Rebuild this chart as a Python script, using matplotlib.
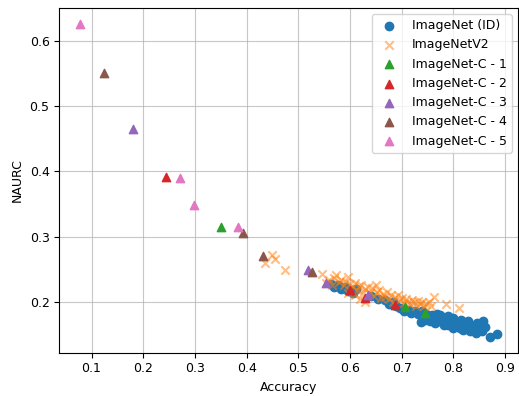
import matplotlib
matplotlib.use("Agg")
import matplotlib.pyplot as plt
import numpy as np

plt.rcParams['font.size'] = 9

# ImageNet (ID) models: accuracy / NAURC
id_acc = [0.563, 0.570, 0.577, 0.583, 0.590, 0.596, 0.605, 0.612,
          0.640, 0.655, 0.668, 0.675, 0.683, 0.690,
          0.697, 0.704, 0.712, 0.718, 0.725, 0.732, 0.737, 0.740, 0.748,
          0.752, 0.758, 0.763, 0.768, 0.772, 0.777, 0.782, 0.786, 0.790,
          0.795, 0.800, 0.804, 0.808, 0.812, 0.815, 0.818, 0.822, 0.826,
          0.829, 0.832, 0.836, 0.840, 0.843, 0.846, 0.850, 0.855, 0.858,
          0.862, 0.871, 0.885,
          0.745, 0.755, 0.765, 0.775, 0.790, 0.800]
id_naurc = [0.227, 0.222, 0.226, 0.219, 0.222, 0.216, 0.214, 0.220,
            0.209, 0.205, 0.203, 0.197, 0.200, 0.193,
            0.190, 0.186, 0.188, 0.183, 0.186, 0.181, 0.169, 0.186, 0.182,
            0.177, 0.180, 0.175, 0.181, 0.170, 0.176, 0.165, 0.172, 0.178,
            0.170, 0.175, 0.163, 0.168, 0.160, 0.172, 0.157, 0.165, 0.160,
            0.170, 0.155, 0.163, 0.158, 0.152, 0.167, 0.160, 0.155, 0.170,
            0.162, 0.146, 0.150,
            0.172, 0.170, 0.168, 0.180, 0.165, 0.160]

# ImageNetV2
v2_acc = [0.436, 0.450, 0.454, 0.474, 0.545, 0.573, 0.597, 0.763, 0.785, 0.811,
          0.553, 0.560, 0.565, 0.570, 0.578, 0.583, 0.588, 0.592, 0.596, 0.600,
          0.605, 0.610, 0.614, 0.618, 0.622, 0.625, 0.630, 0.634, 0.638, 0.642,
          0.646, 0.650, 0.652, 0.656, 0.660, 0.664, 0.668, 0.672, 0.676, 0.680,
          0.684, 0.688, 0.692, 0.696, 0.700, 0.704, 0.708, 0.712, 0.716, 0.720,
          0.724, 0.728, 0.732, 0.736, 0.740, 0.744, 0.748, 0.752, 0.756,
          0.610, 0.620, 0.629]
v2_naurc = [0.259, 0.271, 0.266, 0.249, 0.243, 0.241, 0.238, 0.207, 0.196, 0.190,
            0.229, 0.234, 0.226, 0.236, 0.230, 0.234, 0.225, 0.231, 0.214, 0.227,
            0.222, 0.229, 0.218, 0.224, 0.226, 0.213, 0.219, 0.223, 0.214, 0.221,
            0.209, 0.225, 0.215, 0.218, 0.206, 0.212, 0.208, 0.215, 0.205, 0.210,
            0.200, 0.207, 0.211, 0.202, 0.206, 0.198, 0.204, 0.200, 0.196, 0.203,
            0.199, 0.193, 0.201, 0.196, 0.199, 0.194, 0.197, 0.200, 0.193,
            0.210, 0.205, 0.200]

# ImageNet-C, one list per severity level
c1_acc = [0.351, 0.706, 0.745]
c1_naurc = [0.315, 0.192, 0.183]
c2_acc = [0.245, 0.600, 0.629, 0.687]
c2_naurc = [0.391, 0.218, 0.206, 0.195]
c3_acc = [0.181, 0.518, 0.554, 0.634]
c3_naurc = [0.464, 0.249, 0.229, 0.210]
c4_acc = [0.124, 0.394, 0.432, 0.527]
c4_naurc = [0.550, 0.305, 0.270, 0.246]
c5_acc = [0.078, 0.272, 0.299, 0.384]
c5_naurc = [0.626, 0.390, 0.349, 0.315]

fig = plt.figure(figsize=(5.19, 3.96), dpi=100)
ax = fig.add_axes([0.1143, 0.1093, 0.884, 0.8705])

ax.scatter(id_acc, id_naurc, color='tab:blue', label='ImageNet (ID)')
ax.scatter(v2_acc, v2_naurc, color='tab:orange', marker='x', alpha=0.5,
           label='ImageNetV2')
severities = [(c1_acc, c1_naurc, 'tab:green'),
              (c2_acc, c2_naurc, 'tab:red'),
              (c3_acc, c3_naurc, 'tab:purple'),
              (c4_acc, c4_naurc, 'tab:brown'),
              (c5_acc, c5_naurc, 'tab:pink')]
for i, (acc, naurc, col) in enumerate(severities, start=1):
    ax.scatter(acc, naurc, color=col, marker='^', label=f'ImageNet-C - {i}')

ax.set_xticks(np.arange(0.1, 0.95, 0.1))
ax.set_yticks(np.arange(0.2, 0.65, 0.1))
ax.set_xlabel('Accuracy')
ax.set_ylabel('NAURC')
ax.grid(True, color='#b0b0b0', alpha=0.7)
ax.set_axisbelow(True)
ax.legend(loc='upper right')

fig.savefig('out.png', dpi=100)
